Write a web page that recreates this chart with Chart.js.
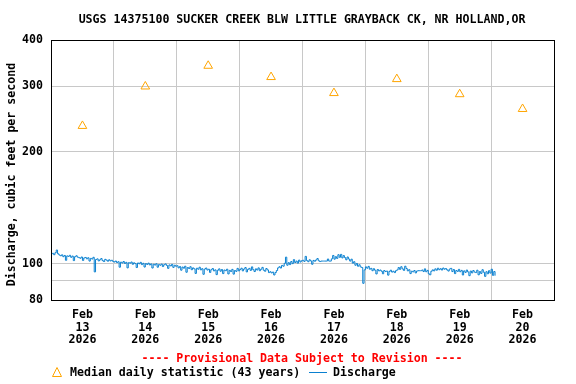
<!DOCTYPE html>
<html>
<head>
<meta charset="utf-8">
<script src="https://cdn.jsdelivr.net/npm/chart.js@4.4.1/dist/chart.umd.min.js"></script>
<style>
  body { margin: 0; background: #fff; }
</style>
</head>
<body>
<canvas id="chart" width="576" height="384"></canvas>
<script>
// Title and axis labels
var chartTitle = 'USGS 14375100 SUCKER CREEK BLW LITTLE GRAYBACK CK, NR HOLLAND,OR';
var yTitle = 'Discharge, cubic feet per second';
var monthName = 'Feb';
var yearName = '2026';
var dayNames = ['13', '14', '15', '16', '17', '18', '19', '20'];
var yTicks = [80, 90, 100, 200, 300, 400];

// Median daily statistic (43 years), one value per day, shown at noon
var medianValues = [235, 300, 341, 318, 288, 314, 286, 261];

// Discharge (cfs), one reading every 30 minutes starting Feb 13 00:00
var feb13 = [106.4, 106.8, 105.9, 107.2, 109.0, 106.5,
  105.7, 105.2, 105.8, 104.6, 105.4, 102.3, 105.1, 104.8, 105.5, 104.2, 105.0, 102.1, 104.6, 105.2, 104.3,
  104.0, 103.6, 104.4, 102.2, 103.8, 104.1, 103.2, 103.9, 101.8, 103.5, 103.1, 104.2,
  95.2,
  102.8, 103.2, 101.9, 102.6, 103.4, 102.1, 101.5, 102.9, 102.4, 101.7, 102.6, 101.9, 102.3, 101.6];
var feb14 = [101.2, 101.8, 100.9, 101.4, 98.0, 101.1, 100.6, 101.5, 100.3, 101.0, 97.6, 100.8,
  100.5, 101.2, 99.8, 100.7, 100.2, 97.8, 100.6, 100.1, 101.0, 99.6, 100.4, 98.1,
  100.2, 99.7, 100.5, 99.4, 100.0, 97.5, 99.8, 99.3, 100.1, 98.0, 99.6, 99.2,
  99.9, 98.4, 99.5, 100.0, 99.1, 97.3, 99.4, 98.8, 99.7, 97.9, 99.2, 98.6];
var feb15 = [98.9, 97.6, 98.4, 96.2, 98.1, 97.4, 98.6, 95.0, 97.8, 97.2, 98.3, 96.5,
  97.6, 97.0, 94.3, 97.4, 96.8, 98.0, 96.4, 97.1, 93.8, 96.9, 97.5, 96.3,
  96.8, 94.9, 96.5, 97.2, 95.8, 96.4, 93.6, 96.2, 97.0, 95.6, 96.6, 94.2,
  96.3, 95.9, 96.8, 94.0, 96.1, 95.4, 96.7, 93.9, 96.0, 95.5, 97.3, 95.8];
var feb16 = [96.6, 97.4, 95.8, 96.9, 97.8, 95.2, 96.7, 97.3, 96.1, 98.2, 96.5, 95.4,
  97.0, 96.3, 97.6, 95.9, 96.8, 97.9, 96.2, 95.6, 97.2, 96.4, 94.8, 95.3,
  94.6, 95.1, 93.4, 94.8, 96.0, 97.6,
  98.3, 97.5, 99.1, 98.6, 100.4, 104.3,
  99.2, 100.8, 99.6, 101.5, 100.2, 102.7, 100.9, 101.8, 100.5, 102.4, 101.2, 102.0];
var feb17 = [102.3, 101.6, 104.8, 102.1, 101.4, 102.6, 101.9, 99.8, 102.2, 101.7, 102.5, 103.4,
  102.0, 101.5, 101.8, 101.8, 101.8, 101.8, 101.8, 103.1, 101.8, 101.8, 103.2, 105.4,
  103.0, 104.6, 103.5, 105.9, 104.2, 106.1, 103.8, 105.3, 104.0, 102.6, 104.4, 103.1,
  101.8, 103.0, 100.5, 101.4, 99.2, 100.3, 98.6, 99.5, 98.2, 97.8,
  88.7, 96.4];
var feb18 = [98.2, 97.4, 98.5, 96.8, 97.3, 95.9, 97.1, 96.2, 94.0, 96.6, 95.8, 96.3,
  95.6, 94.1, 96.0, 95.4, 95.7, 93.3, 95.5, 96.2, 95.1, 95.6, 94.8, 95.9,
  96.4, 97.8, 96.7, 98.3, 97.0, 96.1, 98.6, 97.2, 95.8, 96.5, 94.2, 95.6,
  95.2, 96.0, 94.6, 95.7, 95.9, 95.9, 95.9, 96.3, 95.4, 97.0, 95.3, 96.1];
var feb19 = [94.1, 93.5, 95.6, 96.4, 95.8, 97.0, 96.2, 97.4, 96.5, 97.1, 96.3, 97.5,
  96.8, 97.2, 96.4, 95.7, 96.9, 97.3, 95.4, 96.6, 94.2, 96.0, 95.5, 96.7,
  95.3, 96.1, 93.4, 95.8, 94.9, 96.3, 95.2, 93.0, 95.7, 94.6, 96.0, 95.1,
  94.8, 96.2, 93.5, 95.4, 94.3, 96.5, 95.0, 92.6, 95.3, 94.1, 95.9, 94.5];
var feb20 = [96.8, 93.2, 95.4, 93.0];

var fontFamily = '"DejaVu Sans Mono", monospace';
var textFont = 'bold 11.6px ' + fontFamily;
var medianColor = '#ffa500';
var dischargeColor = '#0a80d0';
var gridColor = '#c8c8c8';

// hours since Feb 13 00:00
var dischargeValues = feb13.concat(feb14, feb15, feb16, feb17, feb18, feb19, feb20);
var dischargePoints = dischargeValues.map(function (v, i) { return { x: i * 0.5, y: v }; });
var medianPoints = medianValues.map(function (v, i) { return { x: 24 * i + 12, y: v }; });

// title, frame, y title, provisional note and legend
var extras = {
  id: 'extras',
  afterDatasetsDraw: function (chart) {
    var ctx = chart.ctx, a = chart.chartArea;
    ctx.save();
    ctx.strokeStyle = '#000';
    ctx.lineWidth = 1;
    ctx.strokeRect(a.left + 0.5, a.top + 0.5, a.right - a.left, a.bottom - a.top);
    ctx.restore();
  },
  afterDraw: function (chart) {
    var ctx = chart.ctx;
    ctx.save();
    ctx.textBaseline = 'middle';
    ctx.fillStyle = '#000';
    ctx.textAlign = 'center';
    ctx.font = textFont;
    ctx.fillText(chartTitle, 302, 20);

    ctx.save();
    ctx.translate(12, 174.5);
    ctx.rotate(-Math.PI / 2);
    ctx.fillText(yTitle, 0, 0);
    ctx.restore();

    ctx.fillStyle = '#ff0000';
    ctx.fillText('---- Provisional Data Subject to Revision ----', 302, 359);

    // legend
    ctx.strokeStyle = medianColor;
    ctx.lineWidth = 1;
    ctx.beginPath();
    ctx.moveTo(57, 367.5);
    ctx.lineTo(52.5, 376.5);
    ctx.lineTo(61.5, 376.5);
    ctx.closePath();
    ctx.stroke();
    ctx.fillStyle = '#000';
    ctx.textAlign = 'left';
    ctx.fillText('Median daily statistic (43 years)', 70, 373);
    ctx.strokeStyle = dischargeColor;
    ctx.beginPath();
    ctx.moveTo(309, 372.5);
    ctx.lineTo(327, 372.5);
    ctx.stroke();
    ctx.fillText('Discharge', 333, 373);
    ctx.restore();
  }
};

new Chart(document.getElementById('chart'), {
  type: 'line',
  data: {
    datasets: [{
      label: 'Median daily statistic (43 years)',
      data: medianPoints,
      showLine: false,
      pointStyle: 'triangle',
      pointRadius: 5,
      pointBorderWidth: 1,
      pointBorderColor: medianColor,
      pointBackgroundColor: 'rgba(0,0,0,0)',
      borderColor: medianColor
    }, {
      label: 'Discharge',
      data: dischargePoints,
      borderColor: dischargeColor,
      borderWidth: 1,
      pointRadius: 0,
      stepped: true,
      fill: false
    }]
  },
  options: {
    responsive: false,
    devicePixelRatio: 1,
    animation: false,
    layout: { padding: { left: 0, right: 22, top: 40, bottom: 0 } },
    plugins: {
      legend: { display: false },
      tooltip: { enabled: false },
      title: { display: false }
    },
    scales: {
      x: {
        type: 'linear',
        min: 0,
        max: 192,
        afterBuildTicks: function (s) {
          var t = [];
          for (var i = 0; i < dayNames.length; i++) {
            if (i > 0) t.push({ value: 24 * i });
            t.push({ value: 24 * i + 12 });
          }
          s.ticks = t;
        },
        afterFit: function (s) { s.height = 84; },
        border: { display: false },
        grid: {
          drawTicks: false,
          color: function (c) {
            return c.tick && c.tick.value % 24 === 0 ? gridColor : 'rgba(0,0,0,0)';
          }
        },
        ticks: {
          autoSkip: false,
          maxRotation: 0,
          padding: 8,
          color: '#000',
          font: { family: fontFamily, size: 11.6, weight: 'bold', lineHeight: 1.12 },
          callback: function (v) {
            if (v % 24 !== 12) return '';
            return [monthName, dayNames[(v - 12) / 24], yearName];
          }
        }
      },
      y: {
        type: 'logarithmic',
        min: 80,
        max: 400,
        afterBuildTicks: function (s) {
          s.ticks = yTicks.map(function (v) { return { value: v }; });
        },
        afterFit: function (s) { s.width = 51; },
        border: { display: false },
        grid: {
          drawTicks: false,
          color: function (c) {
            if (!c.tick) return gridColor;
            return (c.tick.value === 80 || c.tick.value === 400) ? 'rgba(0,0,0,0)' : gridColor;
          }
        },
        ticks: {
          autoSkip: false,
          padding: 8,
          color: '#000',
          font: { family: fontFamily, size: 11.6, weight: 'bold' },
          callback: function (v) { return v === 90 ? '' : String(v); }
        }
      }
    }
  },
  plugins: [extras]
});
</script>
</body>
</html>
